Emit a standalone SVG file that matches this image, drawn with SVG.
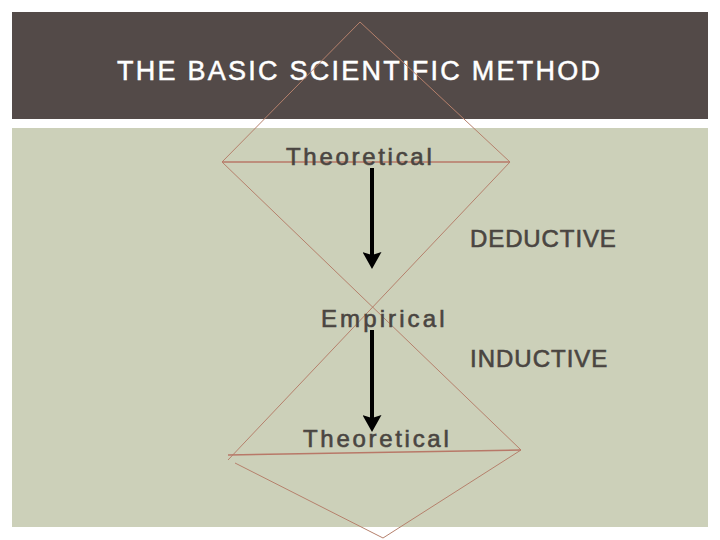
<svg xmlns="http://www.w3.org/2000/svg" width="720" height="540" viewBox="0 0 720 540">
  <defs>
    <style>
      .lbl { font-family: "Liberation Sans", Arial, sans-serif; fill: #4a4541; stroke: #4a4541; stroke-width: 0.6px; font-size: 24px; }
      .title { font-family: "Liberation Sans", Arial, sans-serif; fill: #ffffff; stroke: #ffffff; stroke-width: 0.5px; font-size: 27px; letter-spacing: 2.25px; }
      .shape { fill: none; stroke: #b5806c; stroke-width: 1; }
      .base { fill: none; stroke: #b87868; stroke-width: 1.5; }
      .arrow { stroke: #000000; stroke-width: 4; fill: none; }
    </style>
    <marker id="head" markerWidth="17" markerHeight="19" refX="4" refY="9.5" orient="auto" markerUnits="userSpaceOnUse" viewBox="0 0 17 19">
      <path d="M0,0 L3,9.5 L0,19 L17,9.5 Z" fill="#000000"/>
    </marker>
  </defs>
  <rect width="720" height="540" fill="#ffffff"/>
  <g id="header">
    <rect x="12" y="12" width="696" height="107" fill="#534a48"/>
    <text class="title" x="117" y="80">THE BASIC SCIENTIFIC METHOD</text>
  </g>
  <g id="body">
    <rect x="12" y="128" width="696" height="399" fill="#ccd0b9"/>
  </g>
  <g id="shapes">
    <polyline class="shape" points="222,162 360,22 510,162"/>
    <line class="base" x1="222" y1="162" x2="510" y2="162"/>
    <line class="shape" x1="222" y1="162" x2="521" y2="450"/>
    <line class="shape" x1="510" y1="162" x2="228" y2="460"/>
    <line class="base" x1="228" y1="455" x2="521" y2="450"/>
    <polyline class="shape" points="235,463 383,538 521,450"/>
  </g>
  <g id="node-theoretical-top">
    <text class="lbl" x="286" y="165" style="letter-spacing:2.7px">Theoretical</text>
  </g>
  <g id="node-empirical">
    <text class="lbl" x="321" y="327" style="letter-spacing:3.1px">Empirical</text>
  </g>
  <g id="node-theoretical-bottom">
    <text class="lbl" x="303" y="447" style="letter-spacing:2.7px">Theoretical</text>
  </g>
  <g id="label-deductive">
    <text class="lbl" x="470" y="247" style="letter-spacing:0.9px">DEDUCTIVE</text>
  </g>
  <g id="label-inductive">
    <text class="lbl" x="470" y="367" style="letter-spacing:1px">INDUCTIVE</text>
  </g>
  <g id="connectors">
    <line class="arrow" x1="372" y1="168" x2="372" y2="256" marker-end="url(#head)"/>
    <line class="arrow" x1="372" y1="330" x2="372" y2="419" marker-end="url(#head)"/>
  </g>
</svg>
